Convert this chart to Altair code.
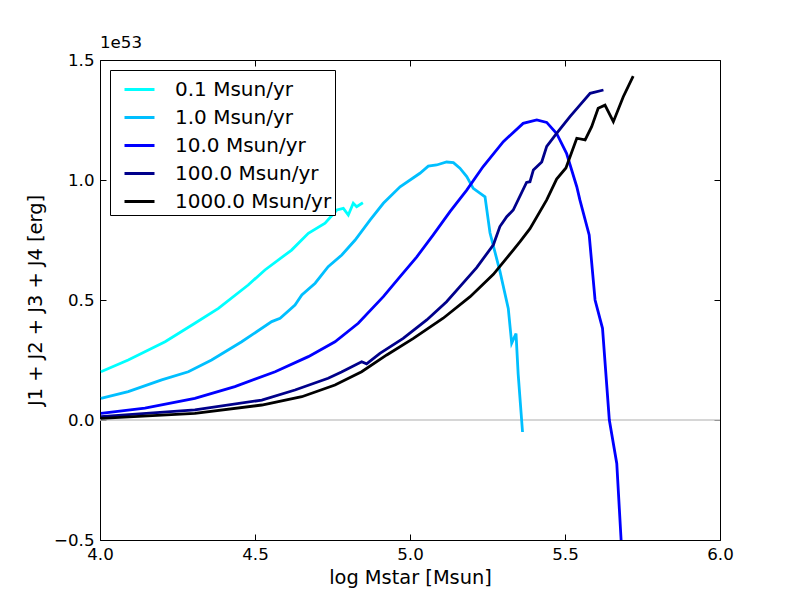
import altair as alt
import pandas as pd

# ---- data (units of 1e53 erg) ----
series_labels = ["0.1 Msun/yr", "1.0 Msun/yr", "10.0 Msun/yr", "100.0 Msun/yr", "1000.0 Msun/yr"]
series_colors = ["#00FFFF", "#00BFFF", "#0000FF", "#00008B", "#000000"]

x_01 = [4.003, 4.091, 4.21, 4.306, 4.382, 4.478, 4.532, 4.618, 4.672, 4.726, 4.764, 4.785, 4.801, 4.817, 4.828, 4.848]
y_01 = [0.201, 0.25, 0.326, 0.403, 0.465, 0.5625, 0.625, 0.708, 0.778, 0.82, 0.875, 0.882, 0.854, 0.903, 0.889, 0.905]

x_1 = [4.003, 4.091, 4.199, 4.285, 4.36, 4.457, 4.554, 4.581, 4.629, 4.651, 4.694, 4.736, 4.78, 4.823, 4.871,
       4.914, 4.968, 5.032, 5.059, 5.086, 5.118, 5.14, 5.161, 5.183, 5.204, 5.231, 5.242, 5.258, 5.29, 5.317,
       5.328, 5.342, 5.349, 5.363]
y_1 = [0.09, 0.118, 0.167, 0.201, 0.25, 0.326, 0.41, 0.424, 0.479, 0.521, 0.57, 0.639, 0.6875, 0.75, 0.833,
       0.903, 0.972, 1.028, 1.058, 1.0625, 1.075, 1.072, 1.049, 1.014, 0.965, 0.94, 0.93, 0.78, 0.62, 0.465,
       0.32, 0.36, 0.19, -0.05]

x_10 = [4.003, 4.145, 4.306, 4.435, 4.565, 4.672, 4.758, 4.833, 4.914, 4.968, 5.022, 5.075, 5.129, 5.183, 5.236,
        5.301, 5.365, 5.409, 5.441, 5.473, 5.505, 5.538, 5.548, 5.578, 5.597, 5.621, 5.643, 5.667, 5.681]
y_10 = [0.028, 0.049, 0.09, 0.139, 0.201, 0.264, 0.326, 0.403, 0.514, 0.597, 0.68, 0.771, 0.868, 0.958, 1.056,
        1.16, 1.236, 1.25, 1.24, 1.194, 1.111, 0.972, 0.917, 0.771, 0.5, 0.382, 0.0, -0.181, -0.5]

x_100 = [4.003, 4.306, 4.522, 4.629, 4.736, 4.779, 4.844, 4.86, 4.903, 4.978, 5.054, 5.118, 5.161, 5.215, 5.269,
         5.29, 5.312, 5.333, 5.376, 5.387, 5.398, 5.425, 5.441, 5.473, 5.516, 5.548, 5.581, 5.624]
y_100 = [0.014, 0.042, 0.083, 0.125, 0.174, 0.2, 0.243, 0.234, 0.278, 0.34, 0.417, 0.493, 0.556, 0.635, 0.73,
         0.806, 0.847, 0.875, 0.99, 0.993, 1.042, 1.075, 1.14, 1.194, 1.264, 1.312, 1.361, 1.375]

x_1000 = [4.003, 4.306, 4.522, 4.651, 4.758, 4.844, 4.925, 5.011, 5.107, 5.194, 5.269, 5.333, 5.355, 5.387, 5.441,
          5.473, 5.503, 5.538, 5.565, 5.586, 5.607, 5.629, 5.656, 5.688, 5.72]
y_1000 = [0.007, 0.028, 0.0625, 0.097, 0.146, 0.201, 0.271, 0.34, 0.424, 0.514, 0.607, 0.708, 0.743, 0.797, 0.917,
          1.004, 1.05, 1.174, 1.167, 1.222, 1.299, 1.312, 1.243, 1.347, 1.433]

x_ticks = [4.0, 4.5, 5.0, 5.5, 6.0]
y_ticks = [-0.5, 0.0, 0.5, 1.0, 1.5]
zero_level = [0.0]

FONT = "DejaVu Sans"
TICK = 6

rows = []
for lab, xs, ys in zip(series_labels,
                       [x_01, x_1, x_10, x_100, x_1000],
                       [y_01, y_1, y_10, y_100, y_1000]):
    for i, (xv, yv) in enumerate(zip(xs, ys)):
        rows.append({"x": xv, "y": yv, "series": lab, "idx": i})
df = pd.DataFrame(rows)
zero_df = pd.DataFrame({"y": zero_level})

xscale = alt.Scale(domain=[4.0, 6.0], nice=False, zero=False)
yscale = alt.Scale(domain=[-0.5, 1.5], nice=False, zero=False)

zero_line = alt.Chart(zero_df).mark_rule(color="#c8c8c8", strokeWidth=1.5).encode(
    y=alt.Y("y:Q", scale=yscale, axis=None)
)

lines = alt.Chart(df).mark_line(strokeWidth=2.8, clip=True).encode(
    x=alt.X("x:Q", scale=xscale,
            axis=alt.Axis(orient="bottom", values=x_ticks, format=".1f", offset=-TICK, tickSize=TICK,
                          labelPadding=6, labelFlush=False, title="log Mstar [Msun]", titlePadding=6,
                          domain=False, grid=False)),
    y=alt.Y("y:Q", scale=yscale,
            axis=alt.Axis(orient="left", values=y_ticks, format=".1f", offset=-TICK, tickSize=TICK,
                          labelPadding=6, title="J1 + J2 + J3 + J4 [erg]", titlePadding=8,
                          domain=False, grid=False)),
    color=alt.Color("series:N",
                    scale=alt.Scale(domain=series_labels, range=series_colors),
                    legend=alt.Legend(title=None, orient="none", legendX=10, legendY=10,
                                      symbolType="stroke", symbolStrokeWidth=3, symbolSize=900,
                                      labelFontSize=20, labelFont=FONT, labelColor="black",
                                      strokeColor="black", fillColor="white", padding=3,
                                      symbolOffset=10, labelOffset=19, rowPadding=1,
                                      cornerRadius=0)),
    order=alt.Order("idx:Q"),
)

frame_ticks = alt.Chart(df).mark_point(opacity=0).encode(
    x=alt.X("x:Q", scale=xscale,
            axis=alt.Axis(orient="top", values=x_ticks, labels=False, title=None, offset=-TICK, tickSize=TICK,
                          domain=False, grid=False)),
    y=alt.Y("y:Q", scale=yscale,
            axis=alt.Axis(orient="right", values=y_ticks, labels=False, title=None, offset=-TICK, tickSize=TICK,
                          domain=False, grid=False)),
)

chart = alt.layer(zero_line, lines, frame_ticks).resolve_axis(
    x="independent", y="independent"
).properties(
    width=620, height=480,
    title=alt.Title("1e53", anchor="start", frame="group", fontSize=16.67, font=FONT,
                    fontWeight="normal", color="black", offset=0),
    autosize=alt.AutoSizeParams(type="none"),
    padding={"left": 92, "top": 52, "right": 72, "bottom": 52},
    background="white",
).configure_view(
    stroke="black", strokeWidth=1
).configure_axis(
    labelFont=FONT, labelFontSize=16.67, labelColor="black",
    titleFont=FONT, titleFontSize=19.4, titleFontWeight="normal", titleColor="black",
    tickColor="black", tickWidth=1,
)

chart.save("out.html", embed_options={"renderer": "svg", "actions": False})
